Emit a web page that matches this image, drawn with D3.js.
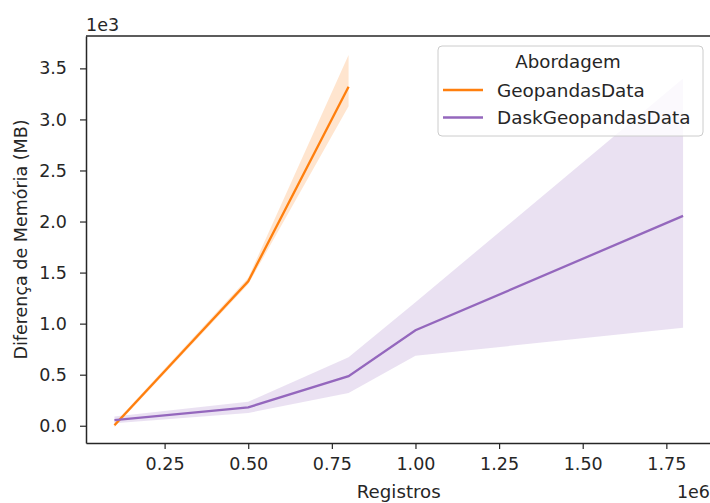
<!DOCTYPE html>
<html><head><meta charset="utf-8">
<script src="https://cdn.jsdelivr.net/npm/d3@7"></script>
<style>body{margin:0;background:#fff}text{font-family:"DejaVu Sans",sans-serif;fill:#262626}</style>
</head><body>
<svg id="c" width="710" height="503"></svg>
<script>
const geoX = [100000, 500000, 800000];
const geoMean = [5, 1415, 3320];
const geoLow = [-15, 1385, 3130];
const geoHigh = [25, 1450, 3630];

const daskX = [100000, 500000, 800000, 1000000, 1800000];
const daskMean = [55, 180, 485, 935, 2055];
const daskLow = [25, 125, 320, 685, 960];
const daskHigh = [90, 235, 670, 1210, 3400];

const xTicks = [250000, 500000, 750000, 1000000, 1250000, 1500000, 1750000];
const yTicks = [0, 500, 1000, 1500, 2000, 2500, 3000, 3500];
const seriesNames = ["GeopandasData", "DaskGeopandasData"];
const colors = ["#ff7f0e", "#9467bd"];

const svg = d3.select("#c");
const L = 86, R = 711.5, T = 36, B = 443;
const x = d3.scaleLinear().domain([15000, 1885000]).range([L, R]);
const y = d3.scaleLinear().domain([-169, 3817]).range([B, T]);

const series = [
  {x: geoX, m: geoMean, lo: geoLow, hi: geoHigh},
  {x: daskX, m: daskMean, lo: daskLow, hi: daskHigh}
];
const g = svg.append("g");
series.forEach((s, i) => {
  const pts = s.x.map((v, j) => ({x: v, m: s.m[j], lo: s.lo[j], hi: s.hi[j]}));
  g.append("path").datum(pts)
    .attr("d", d3.area().x(d => x(d.x)).y0(d => y(d.lo)).y1(d => y(d.hi)))
    .attr("fill", colors[i]).attr("fill-opacity", 0.2);
});
series.forEach((s, i) => {
  const pts = s.x.map((v, j) => ({x: v, m: s.m[j]}));
  g.append("path").datum(pts)
    .attr("d", d3.line().x(d => x(d.x)).y(d => y(d.m)))
    .attr("fill", "none").attr("stroke", colors[i]).attr("stroke-width", 2.3);
});

// axes
const xa = svg.append("g").attr("transform", `translate(0,${B})`)
  .call(d3.axisBottom(x).tickValues(xTicks).tickSize(6).tickPadding(9)
    .tickFormat(d => (d / 1e6).toFixed(2)).tickSizeOuter(0));
const ya = svg.append("g").attr("transform", `translate(${L},0)`)
  .call(d3.axisLeft(y).tickValues(yTicks).tickSize(6).tickPadding(13)
    .tickFormat(d => (d / 1e3).toFixed(1)).tickSizeOuter(0));
[xa, ya].forEach(a => {
  a.selectAll("text").attr("font-size", 17.5).attr("font-family", "DejaVu Sans").attr("fill", "#262626");
  a.selectAll(".tick line").attr("stroke", "#262626").attr("stroke-width", 1.2);
  a.select(".domain").attr("stroke", "#262626").attr("stroke-width", 1.5);
});
// top spine
svg.append("line").attr("x1", L).attr("x2", R).attr("y1", T).attr("y2", T)
  .attr("stroke", "#262626").attr("stroke-width", 1.5);

svg.append("text").attr("x", 86).attr("y", 31).attr("font-size", 17.5).text("1e3");
svg.append("text").attr("x", 710).attr("y", 498).attr("font-size", 17.5).attr("text-anchor", "end").text("1e6");
svg.append("text").attr("x", (L + R) / 2).attr("y", 498).attr("font-size", 18.2).attr("text-anchor", "middle").text("Registros");
svg.append("text").attr("transform", `translate(27,${(T + B) / 2}) rotate(-90)`)
  .attr("font-size", 17.5).attr("text-anchor", "middle").text("Diferença de Memória (MB)");

// legend
const lg = svg.append("g");
lg.append("rect").attr("x", 438).attr("y", 46).attr("width", 265).attr("height", 90).attr("rx", 4)
  .attr("fill", "#fff").attr("fill-opacity", 0.8).attr("stroke", "#cccccc").attr("stroke-width", 1);
lg.append("text").attr("x", 568).attr("y", 68).attr("font-size", 18.2).attr("text-anchor", "middle").text("Abordagem");
seriesNames.forEach((n, i) => {
  const yy = 90 + i * 27.5;
  lg.append("line").attr("x1", 443).attr("x2", 483).attr("y1", yy).attr("y2", yy)
    .attr("stroke", colors[i]).attr("stroke-width", 2.3);
  lg.append("text").attr("x", 497).attr("y", yy + 6.5).attr("font-size", 18.4).text(n);
});
</script>
</body></html>
